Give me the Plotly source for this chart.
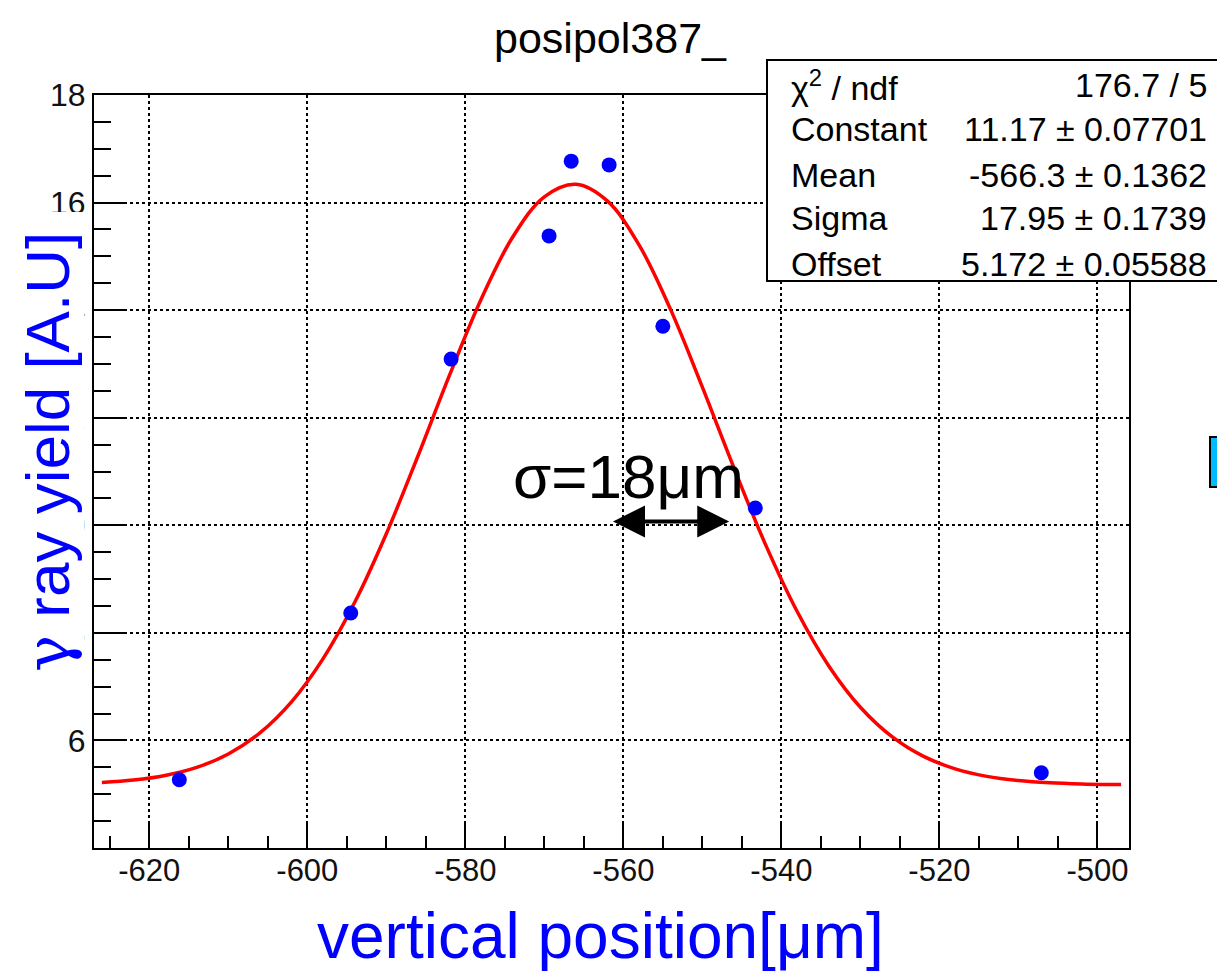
import plotly.graph_objects as go

# ---------------- data ----------------
pos_x = [-616.2, -594.5, -581.8, -569.4, -566.6, -561.8, -555.0, -543.3, -507.1]
yield_y = [5.27, 8.37, 13.09, 15.38, 16.77, 16.70, 13.70, 10.32, 5.40]

fit_x = [-626, -622, -618, -614, -610, -606, -602, -598, -594, -590, -586, -582,
         -578, -574, -570, -566, -562, -558, -554, -550, -546, -542, -538, -534,
         -530, -526, -522, -518, -514, -510, -506, -502, -498, -497]
fit_y = [5.216, 5.263, 5.349, 5.499, 5.749, 6.140, 6.718, 7.521, 8.568, 9.843,
         11.288, 12.791, 14.204, 15.360, 16.107, 16.340, 16.026, 15.209, 14.005,
         12.568, 11.065, 9.640, 8.396, 7.385, 6.617, 6.070, 5.703, 5.471, 5.332,
         5.254, 5.212, 5.190, 5.180, 5.179]

x_ticks = [-620, -600, -580, -560, -540, -520, -500]
x_tick_labels = ["-620", "-600", "-580", "-560", "-540", "-520", "-500"]
y_ticks = [6, 8, 10, 12, 14, 16, 18]
y_tick_labels = ["6", "8", "10", "12", "14", "16", "18"]

stat_labels = ["χ<sup>2</sup> / ndf", "Constant", "Mean", "Sigma", "Offset"]
stat_values = ["176.7 / 5", "11.17 ± 0.07701", "-566.3 ± 0.1362",
               "17.95 ± 0.1739", "5.172 ± 0.05588"]

title_text = "posipol387_"
x_title = "vertical position[μm]"
y_title = "<span style='font-family:DejaVu Serif'>γ</span> ray yield [A.U]"
sigma_text = "σ=18μm"

# ---------------- layout helpers ----------------
O = 8  # page body margin offset
W, H = 1225 - O, 971 - O
L, R, T, B = 94 - O, 1129 - O, 95 - O, 848 - O
FONT = "Liberation Sans, Arial, sans-serif"


def px_x(p):
    return (p - O - L) / (R - L)


def px_y(p):
    return (B - (p - O)) / (B - T)


fig = go.Figure()

fig.add_trace(go.Scatter(x=fit_x, y=fit_y, mode="lines",
                         line=dict(color="#ff0000", width=3.5, shape="spline"),
                         hoverinfo="skip", showlegend=False))
fig.add_trace(go.Scatter(x=pos_x, y=yield_y, mode="markers",
                         marker=dict(color="#0000ff", size=15, symbol="circle"),
                         showlegend=False))

axis_common = dict(showline=True, linecolor="black", linewidth=2, mirror=True,
                   ticks="inside", tickcolor="black", tickwidth=2,
                   showgrid=True, gridcolor="black", gridwidth=1.5, griddash="dot",
                   zeroline=False)

fig.update_xaxes(range=[-627, -496], tickvals=x_ticks, ticktext=x_tick_labels,
                 ticklen=25, ticklabelstandoff=-6,
                 tickfont=dict(family=FONT, size=31, color="#111111"),
                 minor=dict(dtick=5, tick0=-620, ticks="inside", ticklen=12,
                            tickcolor="black", tickwidth=2, showgrid=False),
                 **axis_common)
fig.update_yaxes(range=[4, 18], tickvals=y_ticks, ticktext=y_tick_labels,
                 ticklen=32,
                 tickfont=dict(family=FONT, size=32, color="#111111"),
                 minor=dict(dtick=0.5, tick0=4, ticks="inside", ticklen=17,
                            tickcolor="black", tickwidth=2, showgrid=False),
                 **axis_common)

shapes = []
# white patch behind the y title top (partially hides the "16" label)
shapes.append(dict(type="rect", xref="paper", yref="paper",
                   x0=px_x(8), x1=px_x(88), y0=px_y(240), y1=px_y(212),
                   fillcolor="white", line=dict(width=0), layer="above"))
# stats box
shapes.append(dict(type="rect", xref="paper", yref="paper",
                   x0=px_x(767), x1=px_x(1240), y0=px_y(281), y1=px_y(60),
                   fillcolor="white", line=dict(color="black", width=2),
                   layer="above"))
# blue box on the right edge
shapes.append(dict(type="rect", xref="paper", yref="paper",
                   x0=px_x(1210), x1=px_x(1240), y0=px_y(487), y1=px_y(437),
                   fillcolor="#00bbff", line=dict(color="black", width=2),
                   layer="above"))

annotations = []
row_px = [85, 129, 175, 218, 264]
for lab, val, py in zip(stat_labels, stat_values, row_px):
    annotations.append(dict(xref="paper", yref="paper", x=px_x(789), y=px_y(py),
                            xanchor="left", yanchor="middle", text=lab,
                            showarrow=False,
                            font=dict(family=FONT, size=34, color="black")))
    annotations.append(dict(xref="paper", yref="paper", x=px_x(1209), y=px_y(py),
                            xanchor="right", yanchor="middle", text=val,
                            showarrow=False,
                            font=dict(family=FONT, size=34, color="black")))

# y title with white background covering tick labels
annotations.append(dict(xref="paper", yref="paper", x=px_x(47), y=px_y(452),
                        xanchor="center", yanchor="middle", text=y_title,
                        textangle=-90, showarrow=False, bgcolor="white",
                        borderpad=0,
                        font=dict(family=FONT, size=62, color="#0000ff")))
# x title
annotations.append(dict(xref="paper", yref="paper", x=px_x(600), y=px_y(936),
                        xanchor="center", yanchor="middle", text=x_title,
                        showarrow=False,
                        font=dict(family=FONT, size=64, color="#0000ff")))
# sigma label
annotations.append(dict(xref="x", yref="y", x=-559.3, y=10.9,
                        xanchor="center", yanchor="middle", text=sigma_text,
                        showarrow=False,
                        font=dict(family=FONT, size=62, color="black")))
# double-headed arrow
annotations.append(dict(xref="x", yref="y", x=-546.6, y=10.07,
                        axref="x", ayref="y", ax=-561.5, ay=10.07,
                        text="", showarrow=True, arrowhead=2, startarrowhead=2,
                        arrowside="end+start", arrowwidth=4, arrowsize=1.6,
                        startarrowsize=1.6, arrowcolor="black"))

fig.update_layout(
    width=W, height=H,
    margin=dict(l=L, r=W - R, t=T, b=H - B, autoexpand=False),
    paper_bgcolor="white", plot_bgcolor="white",
    title=dict(text=title_text, x=(610 - O) / W, xanchor="center",
               y=1 - (38 - O) / H, yanchor="middle",
               font=dict(family=FONT, size=43, color="black")),
    shapes=shapes, annotations=annotations,
    showlegend=False,
)

fig.write_html("out.html")
